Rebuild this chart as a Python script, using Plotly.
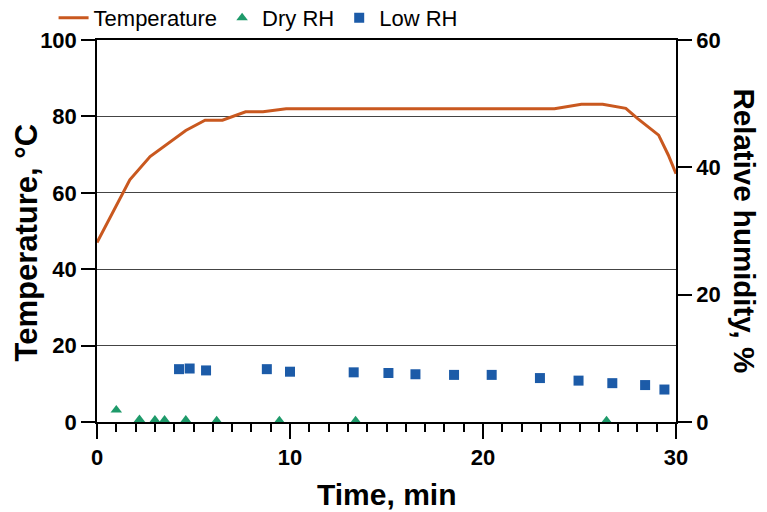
import plotly.graph_objects as go

# Temperature curve (time in min, temperature in °C)
temp_time = [0, 0.9, 1.7, 2.75, 3.7, 4.6, 5.6, 6.5, 7.7, 8.6, 9.8, 23.7, 25.1, 26.2, 27.4, 28.0, 29.1, 29.6, 30.0]
temp_vals = [47, 55.5, 63.4, 69.5, 73, 76.3, 79, 79, 81.2, 81.2, 82, 82, 83.2, 83.2, 82.1, 79.5, 75.1, 69.9, 65]

# Dry RH (relative humidity, %)
dry_time = [1.0, 2.2, 3.0, 3.5, 4.6, 6.2, 9.45, 13.4, 26.4]
dry_rh = [1.9, 0.4, 0.3, 0.3, 0.3, 0.2, 0.2, 0.2, 0.2]

# Low RH (relative humidity, %)
low_time = [4.25, 4.8, 5.65, 8.8, 10.0, 13.3, 15.1, 16.5, 18.5, 20.45, 22.95, 24.95, 26.7, 28.4, 29.4]
low_rh = [8.3, 8.4, 8.1, 8.3, 7.9, 7.8, 7.7, 7.5, 7.4, 7.4, 6.9, 6.5, 6.1, 5.8, 5.1]

FONT = "Liberation Sans, Arial"

fig = go.Figure()
fig.add_trace(go.Scatter(x=temp_time, y=temp_vals, mode="lines", name="Temperature",
                         line=dict(color="#C9581F", width=3)))
fig.add_trace(go.Scatter(x=dry_time, y=dry_rh, mode="markers", name="Dry RH", yaxis="y2",
                         marker=dict(symbol="triangle-up", size=10, color="#1E9A6A")))
fig.add_trace(go.Scatter(x=low_time, y=low_rh, mode="markers", name="Low RH", yaxis="y2",
                         marker=dict(symbol="square", size=10, color="#1C5BA8")))

tickfont = dict(family=FONT, size=22, color="black", weight="bold")

fig.update_layout(
    width=767, height=512,
    margin=dict(l=97, r=91, t=40, b=90, autoexpand=False),
    paper_bgcolor="white", plot_bgcolor="white",
    showlegend=True,
    legend=dict(orientation="h", x=-0.075, xanchor="left", y=1.058, yanchor="middle",
                font=dict(family=FONT, size=22, color="black"),
                bgcolor="rgba(0,0,0,0)", itemwidth=30, tracegroupgap=0),
    xaxis=dict(range=[0, 30], tickvals=[0, 10, 20, 30], ticks="outside", ticklen=15,
               tickwidth=1.5, tickcolor="black", showline=True, linecolor="black", linewidth=1.5,
               mirror=True, showgrid=False, zeroline=False, tickfont=tickfont,
               minor=dict(dtick=1, ticks="outside", ticklen=8, tickcolor="black", tickwidth=1.5)),
    yaxis=dict(range=[0, 100], tickvals=[0, 20, 40, 60, 80, 100], ticks="outside", ticklen=14,
               tickwidth=1.5, tickcolor="black", showline=True, linecolor="black", linewidth=1.5,
               showgrid=True, gridcolor="#444", gridwidth=1, zeroline=False, tickfont=tickfont),
    yaxis2=dict(range=[0, 60], tickvals=[0, 20, 40, 60], overlaying="y", side="right",
                ticks="outside", ticklen=14, tickwidth=1.5, tickcolor="black", showline=True,
                linecolor="black", linewidth=1.5, showgrid=False, zeroline=False, tickfont=tickfont),
    annotations=[
        dict(text="Temperature, °C", xref="paper", yref="paper", x=-0.121, y=0.47,
             xanchor="center", yanchor="middle",
             textangle=-90, showarrow=False, font=dict(family=FONT, size=31, color="black", weight="bold")),
        dict(text="Relative humidity, %", xref="paper", yref="paper", x=1.12, y=0.5,
             xanchor="center", yanchor="middle",
             textangle=90, showarrow=False, font=dict(family=FONT, size=29.5, color="black", weight="bold")),
        dict(text="Time, min", xref="paper", yref="paper", x=0.5, y=-0.19,
             xanchor="center", yanchor="middle",
             showarrow=False, font=dict(family=FONT, size=30, color="black", weight="bold")),
    ],
)

fig.write_html("out.html")
